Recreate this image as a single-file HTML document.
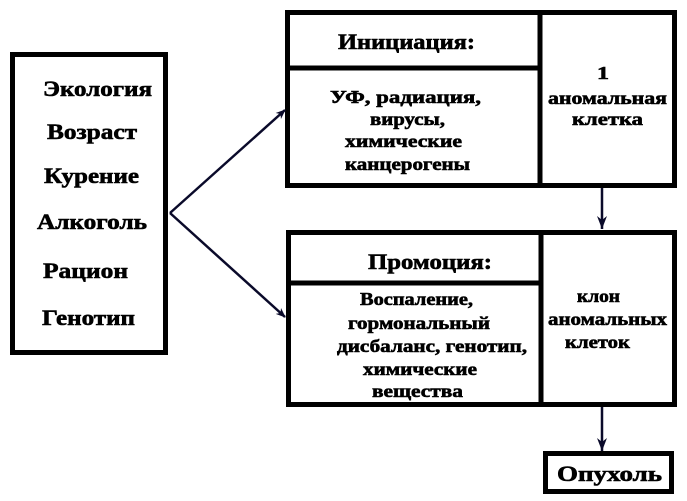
<!DOCTYPE html>
<html><head><meta charset="utf-8"><style>
html,body{margin:0;padding:0;background:#fff;}
svg{display:block;}
text{font-family:"Liberation Serif","DejaVu Serif",serif;font-weight:bold;fill:#000;stroke:#000;stroke-width:0.6;}
</style></head><body>
<svg width="687" height="501" viewBox="0 0 687 501" xmlns="http://www.w3.org/2000/svg">
<defs>
<marker id="ah" markerWidth="10" markerHeight="10" refX="9" refY="5" orient="auto" markerUnits="userSpaceOnUse">
<path d="M0,1 L10,5 L0,9 L3,5 Z" fill="#0a0a2a"/>
</marker>
<marker id="av" markerWidth="12" markerHeight="14" refX="6" refY="13" orient="0" markerUnits="userSpaceOnUse">
<path d="M1,0 L6,13 L11,0 L6,4 Z" fill="#0a0a2a"/>
</marker>
</defs>
<g fill="none" stroke="#000" stroke-width="5">
<rect x="12.5" y="54.5" width="153" height="298"/>
<rect x="287.5" y="12.5" width="387" height="173"/>
<line x1="287" y1="68" x2="540" y2="68"/>
<line x1="540" y1="12" x2="540" y2="186"/>
<rect x="288.5" y="232.5" width="386" height="172"/>
<line x1="288" y1="283" x2="541" y2="283"/>
<line x1="541" y1="232" x2="541" y2="405"/>
<rect x="545.5" y="453.5" width="126" height="38"/>
</g>
<g stroke="#0a0a2a" stroke-width="2.5" fill="none">
<line x1="170" y1="213" x2="285" y2="110" marker-end="url(#ah)"/>
<line x1="170" y1="213" x2="285" y2="317" marker-end="url(#ah)"/>
<line x1="602" y1="188" x2="602" y2="229" marker-end="url(#av)"/>
<line x1="602" y1="407" x2="602" y2="451" marker-end="url(#av)"/>
</g>
<g font-size="22" lengthAdjust="spacingAndGlyphs">
<text x="43" y="96" textLength="109" lengthAdjust="spacingAndGlyphs">Экология</text>
<text x="47" y="139" textLength="90" lengthAdjust="spacingAndGlyphs">Возраст</text>
<text x="44" y="183" textLength="95" lengthAdjust="spacingAndGlyphs">Курение</text>
<text x="37" y="229" textLength="110" lengthAdjust="spacingAndGlyphs">Алкоголь</text>
<text x="43" y="278" textLength="85" lengthAdjust="spacingAndGlyphs">Рацион</text>
<text x="42" y="325" textLength="93" lengthAdjust="spacingAndGlyphs">Генотип</text>
<text x="338" y="49" textLength="137" lengthAdjust="spacingAndGlyphs">Инициация:</text>
<text x="368" y="269" textLength="124" lengthAdjust="spacingAndGlyphs">Промоция:</text>
<text x="557" y="481" textLength="105" lengthAdjust="spacingAndGlyphs">Опухоль</text>
</g>
<g font-size="18">
<text x="330" y="103" textLength="151" lengthAdjust="spacingAndGlyphs">УФ, радиация,</text>
<text x="370" y="125" textLength="75" lengthAdjust="spacingAndGlyphs">вирусы,</text>
<text x="345" y="147" textLength="117" lengthAdjust="spacingAndGlyphs">химические</text>
<text x="345" y="170" textLength="125" lengthAdjust="spacingAndGlyphs">канцерогены</text>
<text x="597" y="79" textLength="12" lengthAdjust="spacingAndGlyphs">1</text>
<text x="548" y="104" textLength="119" lengthAdjust="spacingAndGlyphs">аномальная</text>
<text x="572" y="125" textLength="71" lengthAdjust="spacingAndGlyphs">клетка</text>
<text x="360" y="305" textLength="113" lengthAdjust="spacingAndGlyphs">Воспаление,</text>
<text x="348" y="329" textLength="142" lengthAdjust="spacingAndGlyphs">гормональный</text>
<text x="337" y="352" textLength="190" lengthAdjust="spacingAndGlyphs">дисбаланс, генотип,</text>
<text x="363" y="375" textLength="114" lengthAdjust="spacingAndGlyphs">химические</text>
<text x="372" y="397" textLength="91" lengthAdjust="spacingAndGlyphs">вещества</text>
<text x="577" y="302" textLength="43" lengthAdjust="spacingAndGlyphs">клон</text>
<text x="548" y="325" textLength="119" lengthAdjust="spacingAndGlyphs">аномальных</text>
<text x="565" y="348" textLength="65" lengthAdjust="spacingAndGlyphs">клеток</text>
</g>
</svg>
</body></html>
